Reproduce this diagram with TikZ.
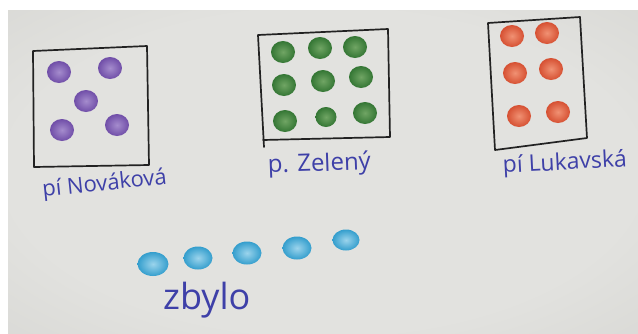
\documentclass[tikz,border=0pt]{standalone}
\usepackage{fontspec}
\setmainfont{Open Sans}
\usetikzlibrary{shapes.geometric}
\definecolor{paperC}{RGB}{226,226,223}
\definecolor{paperM}{RGB}{208,208,204}
\definecolor{paperE}{RGB}{166,165,161}
\definecolor{boxink}{RGB}{34,34,34}
\definecolor{ink}{RGB}{62,64,168}
\definecolor{purpleMain}{RGB}{112,78,168}
\definecolor{purpleIn}{RGB}{165,140,205}
\definecolor{greenMain}{RGB}{52,118,52}
\definecolor{greenIn}{RGB}{112,165,100}
\definecolor{redMain}{RGB}{214,80,50}
\definecolor{redIn}{RGB}{240,145,115}
\definecolor{blueMain}{RGB}{52,158,205}
\definecolor{blueIn}{RGB}{155,212,236}
\pgfdeclareradialshading{paperbg}{\pgfpoint{0bp}{0bp}}{color(0bp)=(paperC); color(25bp)=(paperC); color(50bp)=(paperM); color(71bp)=(paperE)}
\tikzset{
  frame/.style={draw=boxink, line width=1.7pt, line join=round, line cap=round},
  dot/.style={ellipse, minimum width=24pt, minimum height=22pt, inner sep=0pt},
  bigdot/.style={ellipse, minimum width=31pt, minimum height=24pt, inner sep=0pt},
  pdot/.style={dot, inner color=purpleIn, outer color=purpleMain},
  gdot/.style={dot, inner color=greenIn, outer color=greenMain},
  rdot/.style={dot, inner color=redIn, outer color=redMain},
  bdot/.style={bigdot, inner color=blueIn, outer color=blueMain},
  hand/.style={text=ink, inner sep=0pt, anchor=base west}
}
\begin{document}
\begin{tikzpicture}[x=1pt,y=-1pt]
\fill[white] (0,0) rectangle (638,333);
\useasboundingbox (0,0) rectangle (638,333);
\fill[shading=paperbg] (8,10) rectangle (638,333);

% box of pani Novakova
\coordinate (a1) at (33,51);
\coordinate (a2) at (147,46);
\coordinate (a3) at (149,165);
\coordinate (a4) at (34,167);
\draw[frame] (a1) -- (a2) -- (a3) -- (a4) -- cycle;
\node[pdot] (n1) at (59,72) {};
\node[pdot] (n2) at (110,68) {};
\node[pdot] (n3) at (86,101) {};
\node[pdot] (n4) at (62,130) {};
\node[pdot] (n5) at (117,125) {};
\node[hand, font=\fontsize{22}{24}\selectfont, rotate=6] (tn) at (43,197) {pí Nováková};

% box of pan Zeleny
\coordinate (c1) at (258,35);
\coordinate (c2) at (388,29);
\coordinate (c3) at (390,137);
\coordinate (c4) at (263,140);
\coordinate (c5) at (264,147);
\draw[frame] (c5) -- (c1) -- (c2) -- (c3) -- (c4);
\node[gdot] (z1) at (283,52) {};
\node[gdot] (z2) at (320,48) {};
\node[gdot] (z3) at (355,47) {};
\node[gdot] (z4) at (284,85) {};
\node[gdot] (z5) at (323,81) {};
\node[gdot] (z6) at (361,77) {};
\node[gdot] (z7) at (285,121) {};
\node[gdot, minimum width=21pt, minimum height=20pt] (z8) at (326,117) {};
\node[gdot] (z9) at (365,113) {};
\node[hand, font=\fontsize{24}{26}\selectfont, rotate=2] (tz) at (268,173) {p. Zelený};

% box of pani Lukavska
\coordinate (e1) at (488,23);
\coordinate (e2) at (580,17);
\coordinate (e3) at (587,138);
\coordinate (e4) at (495,150);
\draw[frame] (e1) -- (e2) -- (e3) -- (e4) -- cycle;
\node[rdot] (l1) at (512,36) {};
\node[rdot] (l2) at (547,33) {};
\node[rdot] (l3) at (515,73) {};
\node[rdot] (l4) at (551,69) {};
\node[rdot] (l5) at (519,116) {};
\node[rdot] (l6) at (558,112) {};
\node[hand, font=\fontsize{23}{25}\selectfont, rotate=3] (tl) at (503,173) {pí Lukavská};

% remaining
\node[bdot] (b1) at (153,264) {};
\node[bdot, minimum width=29pt, minimum height=23pt] (b2) at (198,258) {};
\node[bdot, minimum width=29pt, minimum height=23pt] (b3) at (247,253) {};
\node[bdot, minimum width=29pt, minimum height=23pt] (b4) at (297,248) {};
\node[bdot, minimum width=27pt, minimum height=21pt] (b5) at (346,240) {};
\node[hand, font=\fontsize{36}{40}\selectfont] (tb) at (163,309) {zbylo};
\end{tikzpicture}
\end{document}
